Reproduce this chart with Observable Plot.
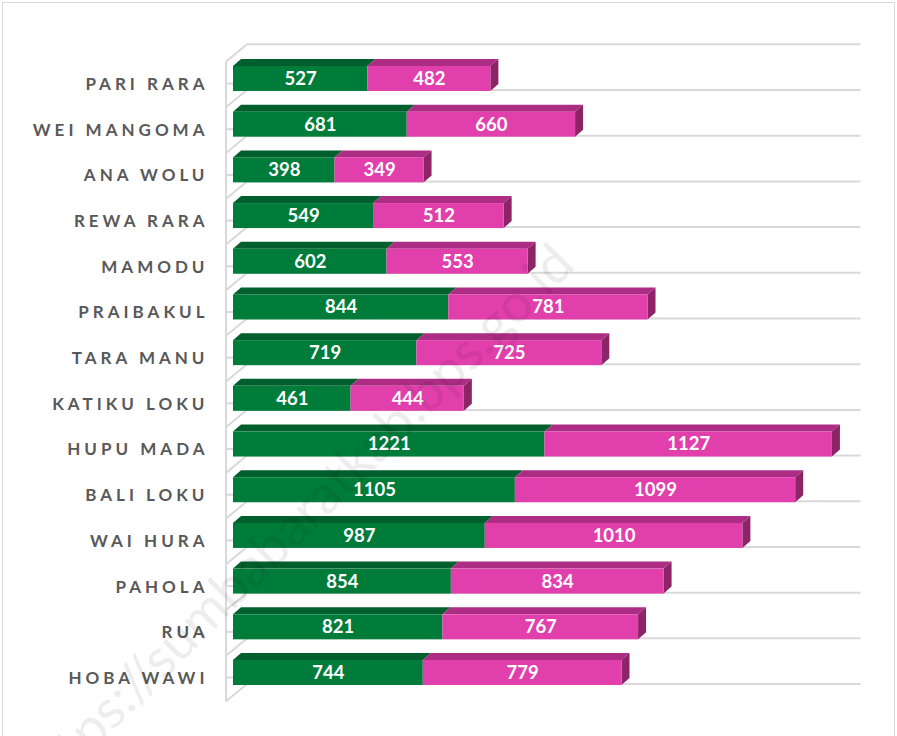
<!DOCTYPE html>
<html><head><meta charset="utf-8">
<script src="https://cdn.jsdelivr.net/npm/d3@7"></script>
<script src="https://cdn.jsdelivr.net/npm/@observablehq/plot@0.6"></script>
<style>
html,body{margin:0;padding:0;background:#fff;}
#wrap{position:relative;width:897px;height:736px;overflow:hidden;}
#border{position:absolute;left:2px;top:2px;width:893px;height:760px;border:1px solid #d9d9d9;box-sizing:border-box;}
#chart{position:absolute;left:0;top:0;}
#wm{position:absolute;left:296px;top:519px;transform:translate(-50%,-50%) rotate(-45deg);font:54px Lato, sans-serif;color:rgba(0,0,0,0.07);white-space:nowrap;pointer-events:none;}
</style></head><body>
<div id="wrap"><div id="border"></div><div id="chart"></div><div id="wm">https://sumbabaratkab.bps.go.id</div></div>
<script>
const desa = ["PARI RARA", "WEI MANGOMA", "ANA WOLU", "REWA RARA", "MAMODU", "PRAIBAKUL", "TARA MANU", "KATIKU LOKU", "HUPU MADA", "BALI LOKU", "WAI HURA", "PAHOLA", "RUA", "HOBA WAWI"];
const lakiLaki = [527, 681, 398, 549, 602, 844, 719, 461, 1221, 1105, 987, 854, 821, 744];
const perempuan = [482, 660, 349, 512, 553, 781, 725, 444, 1127, 1099, 1010, 834, 767, 779];
const seri = ["Laki-laki", "Perempuan"];

const tidy = [];
desa.forEach((d, i) => {
  tidy.push({desa: d, sex: seri[0], value: lakiLaki[i]});
  tidy.push({desa: d, sex: seri[1], value: perempuan[i]});
});

const INSET = 10.35, DX = 8, DY = 7;
const gridColor = "#d9d9d9";
const labelColor = "#595959";

function decor(index, scales, values, dims) {
  const {x, y} = scales;
  let bw = typeof y.bandwidth === "function" ? y.bandwidth() : y.bandwidth;
  if (!(bw > 0)) bw = (dims.height - dims.marginTop - dims.marginBottom) / desa.length;
  const g = d3.create("svg:g");
  const x0 = x(0), xEnd = dims.width - dims.marginRight;
  const bounds = desa.map(d => y(d)).concat([y(desa[desa.length - 1]) + bw]);
  const line = (x1, y1, x2, y2) => g.append("line").attr("x1", x1).attr("y1", y1).attr("x2", x2).attr("y2", y2)
    .attr("stroke", gridColor).attr("stroke-width", 2);
  for (const b of bounds) line(x0 + 14, b - 11.3, xEnd, b - 11.3);
  line(x0 - 7, bounds[0] + 6, x0 - 7, bounds[bounds.length - 1] + 6);
  for (const b of bounds) line(x0 - 7, b + 6, x0 + 14, b - 11.3);
  for (const d of desa) line(x0 - 7, y(d) + bw / 2 + 5, x0, y(d) + bw / 2 + 5);
  const poly = (pts, fill) => g.append("path").attr("d", "M" + pts.map(p => p.join(",")).join("L") + "Z").attr("fill", fill);
  desa.forEach((d, i) => {
    const xa = x(0), xb = x(lakiLaki[i]), xc = x(lakiLaki[i] + perempuan[i]);
    const yt = y(d) + INSET, yb = y(d) + bw - INSET;
    poly([[xa, yt], [xb, yt], [xb + DX, yt - DY], [xa + DX, yt - DY]], "#005f2c");
    poly([[xb, yt], [xc, yt], [xc + DX, yt - DY], [xb + DX, yt - DY]], "#ad2d84");
    poly([[xc, yt], [xc + DX, yt - DY], [xc + DX, yb - DY], [xc, yb]], "#8c2467");
  });
  return g.node();
}

const chart = Plot.plot({
  width: 897,
  height: 736,
  marginLeft: 233,
  marginRight: 36.5,
  marginTop: 55.65,
  marginBottom: 40.65,
  x: {domain: [0, 2460], axis: null},
  y: {domain: desa, padding: 0, round: false, axis: null},
  color: {domain: seri, range: ["#007c3a", "#e13fab"]},
  style: {fontFamily: "Lato, sans-serif", background: "transparent", overflow: "visible"},
  marks: [
    decor,
    Plot.barX(tidy, Plot.stackX({x: "value", y: "desa", fill: "sex", insetTop: INSET, insetBottom: INSET})),
    Plot.text(tidy, Plot.stackX({x: "value", y: "desa", text: d => String(d.value), fill: "white", fontWeight: "bold", fontSize: 18.5})),
    Plot.text(desa, {y: d => d, text: d => d, frameAnchor: "left", textAnchor: "end", dx: -25, dy: 5.5, fill: labelColor, fontWeight: "bold", fontSize: 17})
  ]
});
d3.select(chart).selectAll("g").filter(function() { return this.getAttribute("fill") === labelColor; })
  .attr("letter-spacing", "4px");
document.getElementById("chart").appendChild(chart);
</script>
</body></html>
